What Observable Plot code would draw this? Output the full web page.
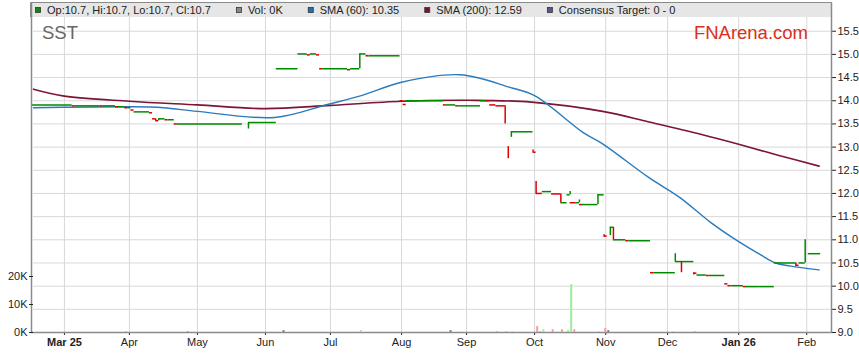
<!DOCTYPE html>
<html><head><meta charset="utf-8">
<script src="https://cdn.jsdelivr.net/npm/d3@7"></script>
<script src="https://cdn.jsdelivr.net/npm/@observablehq/plot@0.6"></script>
<style>
body{margin:0;background:#fff;}
#wrap{position:relative;width:859px;height:363px;}
#wrap svg{position:absolute;left:0;top:0;}
</style></head><body><div id="wrap"></div>
<script>
// ---------- data ----------
const monthTicks = ["2025-03-03","2025-04-01","2025-05-01","2025-06-02","2025-07-01","2025-08-01","2025-09-01","2025-10-01","2025-11-03","2025-12-01","2026-01-01","2026-02-02"];
const monthLabels = ["Mar 25","Apr","May","Jun","Jul","Aug","Sep","Oct","Nov","Dec","Jan 26","Feb"];
const boldLabels = ["Mar 25","Jan 26"];
const priceTicks = [9.0,9.5,10.0,10.5,11.0,11.5,12.0,12.5,13.0,13.5,14.0,14.5,15.0,15.5];
const volTicks = [0,10,20];

// price runs: [first day, last day, price, direction]
const runs = [
["2025-02-17","2025-03-05",13.91,"u"],["2025-03-06","2025-03-06",13.89,"d"],["2025-03-07","2025-03-18",13.89,"u"],
["2025-03-19","2025-03-19",13.89,"d"],["2025-03-20","2025-03-25",13.89,"u"],["2025-03-26","2025-03-26",13.87,"d"],
["2025-03-27","2025-03-28",13.87,"u"],["2025-03-31","2025-03-31",13.85,"d"],["2025-04-01","2025-04-01",13.85,"u"],
["2025-04-02","2025-04-02",13.80,"d"],["2025-04-03","2025-04-09",13.76,"u"],["2025-04-10","2025-04-10",13.74,"d"],
["2025-04-11","2025-04-11",13.61,"d"],["2025-04-14","2025-04-14",13.57,"d"],["2025-04-15","2025-04-16",13.61,"u"],
["2025-04-17","2025-04-17",13.59,"d"],["2025-04-18","2025-04-21",13.59,"u"],["2025-04-22","2025-04-22",13.50,"d"],
["2025-04-23","2025-05-21",13.50,"u"],["2025-05-26","2025-06-05",13.53,"u"],["2025-06-06","2025-06-16",14.69,"u"],
["2025-06-17","2025-06-19",15.01,"u"],["2025-06-20","2025-06-20",14.99,"d"],["2025-06-23","2025-06-24",15.01,"u"],
["2025-06-25","2025-06-25",14.99,"d"],["2025-06-26","2025-06-26",14.69,"d"],["2025-06-27","2025-07-08",14.69,"u"],
["2025-07-09","2025-07-09",14.67,"d"],["2025-07-10","2025-07-14",14.69,"u"],["2025-07-15","2025-07-16",15.01,"u"],
["2025-07-17","2025-07-17",14.97,"d"],["2025-07-18","2025-07-31",14.97,"u"],["2025-08-01","2025-08-01",14.00,"d"],
["2025-08-04","2025-08-04",13.92,"d"],["2025-08-05","2025-08-20",14.00,"u"],["2025-08-21","2025-08-21",13.91,"d"],
["2025-08-22","2025-08-26",13.91,"u"],["2025-08-27","2025-08-27",13.89,"d"],["2025-08-28","2025-09-05",13.89,"u"],
["2025-09-08","2025-09-09",14.00,"u"],["2025-09-10","2025-09-10",14.00,"d"],["2025-09-11","2025-09-12",13.91,"d"],
["2025-09-15","2025-09-17",13.89,"d"],["2025-09-22","2025-09-30",13.33,"u"],["2025-10-01","2025-10-01",12.89,"d"],
["2025-10-02","2025-10-03",12.00,"d"],["2025-10-06","2025-10-08",12.04,"u"],["2025-10-09","2025-10-13",11.99,"d"],
["2025-10-14","2025-10-15",11.80,"u"],["2025-10-16","2025-10-16",11.97,"u"],["2025-10-17","2025-10-20",11.80,"d"],
["2025-10-21","2025-10-21",11.80,"u"],["2025-10-22","2025-10-22",11.76,"d"],["2025-10-23","2025-10-29",11.76,"u"],
["2025-10-30","2025-10-31",11.97,"u"],["2025-11-03","2025-11-03",11.08,"d"],["2025-11-05","2025-11-05",11.27,"u"],
["2025-11-06","2025-11-11",11.00,"u"],["2025-11-12","2025-11-12",10.98,"d"],["2025-11-13","2025-11-21",10.98,"u"],
["2025-11-24","2025-11-24",10.29,"d"],["2025-11-25","2025-12-03",10.29,"u"],["2025-12-04","2025-12-05",10.53,"u"],
["2025-12-08","2025-12-11",10.53,"u"],["2025-12-12","2025-12-12",10.28,"d"],["2025-12-15","2025-12-17",10.24,"u"],
["2025-12-18","2025-12-18",10.23,"d"],["2025-12-19","2025-12-25",10.23,"u"],["2025-12-26","2025-12-26",10.05,"d"],
["2025-12-29","2025-12-29",10.01,"d"],["2025-12-30","2026-01-02",10.01,"u"],["2026-01-05","2026-01-05",9.99,"d"],
["2026-01-06","2026-01-09",9.99,"u"],["2026-01-12","2026-01-16",9.99,"u"],["2026-01-19","2026-01-27",10.50,"u"],
["2026-01-28","2026-01-28",10.45,"d"],["2026-01-29","2026-01-30",10.50,"u"],["2026-02-03","2026-02-06",10.70,"u"]
];

// intraday moves: [day, from, to, direction]
const moves = [
["2025-04-14",13.61,13.57,"d"],["2025-04-15",13.57,13.61,"u"],["2025-05-26",13.39,13.52,"u"],
["2025-07-15",14.69,15.01,"u"],["2025-09-18",13.89,13.50,"d"],["2025-09-19",13.01,12.75,"d"],
["2025-09-22",13.21,13.33,"u"],["2025-10-01",12.94,12.89,"d"],["2025-10-02",12.26,11.99,"d"],
["2025-10-14",11.99,11.80,"d"],["2025-10-17",11.97,12.04,"u"],["2025-10-22",11.80,11.86,"u"],
["2025-10-30",11.76,11.97,"u"],["2025-11-03",11.11,11.06,"d"],["2025-11-05",11.09,11.27,"u"],
["2025-11-06",11.27,11.00,"d"],["2025-12-04",10.53,10.70,"u"],["2025-12-08",10.53,10.29,"d"],
["2025-12-12",10.29,10.24,"d"],["2026-01-28",10.50,10.43,"d"],["2026-02-02",10.50,11.00,"u"]
];

// volume in thousands: [day, K, direction]
const volumes = [
["2025-03-31",0.3,"d"],["2025-04-28",0.2,"n"],["2025-06-10",0.7,"n"],["2025-07-15",0.7,"u"],
["2025-08-25",0.7,"n"],["2025-09-15",0.3,"d"],["2025-09-18",0.3,"d"],["2025-09-22",0.3,"u"],
["2025-10-02",2.1,"d"],["2025-10-03",0.3,"d"],["2025-10-06",1.0,"u"],["2025-10-09",1.0,"d"],
["2025-10-14",1.0,"d"],["2025-10-16",0.7,"u"],["2025-10-17",17.1,"u"],["2025-10-20",1.0,"d"],
["2025-10-30",0.3,"u"],["2025-11-03",1.4,"d"],["2025-11-04",0.7,"n"],["2025-12-03",0.3,"u"],
["2025-12-12",0.3,"d"]
];

const sma60 = [
["2025-02-17",13.85],["2025-04-01",13.87],["2025-04-16",13.85],["2025-05-01",13.77],["2025-06-05",13.64],
["2025-06-30",13.92],["2025-07-15",14.11],["2025-08-01",14.40],["2025-08-28",14.56],["2025-09-19",14.29],
["2025-10-01",14.11],["2025-10-23",13.30],["2025-10-31",13.07],["2025-11-21",12.34],["2025-12-05",11.91],
["2025-12-19",11.37],["2026-01-01",10.96],["2026-01-12",10.68],["2026-01-19",10.50],["2026-01-28",10.41],
["2026-02-06",10.35]
];
const sma200 = [
["2025-02-17",14.25],["2025-03-03",14.10],["2025-04-01",13.99],["2025-05-01",13.91],["2025-06-02",13.83],
["2025-07-01",13.90],["2025-08-01",13.99],["2025-09-02",14.01],["2025-09-30",13.97],["2025-10-31",13.77],
["2025-11-21",13.54],["2025-12-16",13.27],["2026-01-01",13.06],["2026-01-20",12.82],["2026-02-06",12.59]
];

// ---------- helpers ----------
const START = Date.UTC(2025,1,17); // Monday
function wd(s){ // weekday index since start
  const days = Math.round((Date.parse(s) - START)/864e5);
  return Math.floor(days/7)*5 + Math.min(days%7,5);
}
const UP = "#008a00", DOWN = "#dd0000";
const col = d => d === "u" ? UP : DOWN;
const volCol = d => d === "u" ? "#99ee99" : d === "d" ? "#ff9999" : "#7f7f7f";
const FONT = "'Liberation Sans', Arial, sans-serif";
const W = 859, H = 363, ML = 33, MR = 28, MT = 17, MB = 31;
const X_DOMAIN = [0, 258];
const Y_TOP = 9 + (332 - MT) / 46.35;

const monthIdx = monthTicks.map(wd);
const labelOf = new Map(monthIdx.map((v,i)=>[v, monthLabels[i]]));

const price = Plot.plot({
  width: W, height: H, marginLeft: ML, marginRight: MR, marginTop: MT, marginBottom: MB,
  style: {fontFamily: FONT, fontSize: "11px", color: "#222", background: "white", overflow: "visible"},
  x: {type: "linear", domain: X_DOMAIN, ticks: monthIdx, tickFormat: v => labelOf.get(v), tickSize: 3, tickPadding: 3, label: null},
  y: {domain: [9, Y_TOP], axis: "right", ticks: priceTicks, tickFormat: d => d.toFixed(1), tickSize: 4, tickPadding: 2, label: null},
  marks: [
    Plot.ruleY(priceTicks, {stroke: "#d8d8d8", strokeWidth: 1}),
    Plot.ruleX(monthIdx, {y1: 9, y2: Y_TOP, stroke: "#d8d8d8", strokeWidth: 1}),
    Plot.line(sma200, {x: d => wd(d[0]), y: d => d[1], stroke: "#7d1533", strokeWidth: 1.6, curve: "catmull-rom"}),
    Plot.line(sma60, {x: d => wd(d[0]), y: d => d[1], stroke: "#2a7bbd", strokeWidth: 1.4, curve: "catmull-rom"}),
    Plot.ruleY(runs, {y: d => d[2], x1: d => wd(d[0]) - 0.5, x2: d => wd(d[1]) + 0.5, stroke: d => col(d[3]), strokeWidth: 1.5}),
    Plot.ruleX(moves, {x: d => wd(d[0]) - 0.5, y1: d => d[1], y2: d => d[2], stroke: d => col(d[3]), strokeWidth: 1.5})
  ]
});

const vol = Plot.plot({
  width: W, height: H, marginLeft: ML, marginRight: MR, marginTop: MT, marginBottom: MB,
  style: {fontFamily: FONT, fontSize: "11px", color: "#222", background: "transparent", overflow: "visible"},
  x: {type: "linear", domain: X_DOMAIN, axis: null},
  y: {domain: [0, (332 - MT) / 2.8], axis: "left", ticks: volTicks, tickFormat: d => d + "K", tickSize: 4, tickPadding: 2, label: null},
  marks: [
    Plot.rect(volumes, {x1: d => wd(d[0]) - 0.32, x2: d => wd(d[0]) + 0.32, y1: 0, y2: d => d[1], fill: d => volCol(d[2])})
  ]
});

const wrap = document.getElementById("wrap");
wrap.appendChild(price);
wrap.appendChild(vol);

// bold year labels
d3.select(price).selectAll("text").filter(function(){ return boldLabels.includes(this.textContent); }).attr("font-weight", "bold");

// frame, legend band, titles
const s = d3.select(price);
const deco = s.append("g").attr("text-anchor", "start");
deco.append("rect").attr("x", 30.5).attr("y", 2.5).attr("width", 801).attr("height", 14.5).attr("fill", "#e6e6e6").attr("stroke", "none");
deco.append("path").attr("d", "M30.5,17 V2.5 H831.5 V17").attr("fill", "none").attr("stroke", "#8a8a8a");
deco.append("line").attr("x1", 31.5).attr("x2", 31.5).attr("y1", 2.5).attr("y2", 332.5).attr("stroke", "#8a8a8a").attr("stroke-width", 1.5);
deco.append("line").attr("x1", 831.5).attr("x2", 831.5).attr("y1", 2.5).attr("y2", 332.5).attr("stroke", "#8a8a8a").attr("stroke-width", 1.5);
deco.append("line").attr("x1", 31).attr("x2", 832).attr("y1", 332.5).attr("y2", 332.5).attr("stroke", "#8a8a8a").attr("stroke-width", 1.5);

const last = runs[runs.length - 1][2].toFixed(1);
const legendItems = [
  {c: "#0a8a0a", t: `Op:${last}, Hi:${last}, Lo:${last}, Cl:${last}`},
  {c: "#8a8a8a", t: "Vol: 0K"},
  {c: "#1f6fb3", t: `SMA (60): ${sma60[sma60.length-1][1].toFixed(2)}`},
  {c: "#7b1230", t: `SMA (200): ${sma200[sma200.length-1][1].toFixed(2)}`},
  {c: "#56568c", t: "Consensus Target: 0 - 0"}
];
let lx = 35;
for (const it of legendItems) {
  deco.append("rect").attr("x", lx + 0.5).attr("y", 7.5).attr("width", 5).attr("height", 5).attr("fill", it.c).attr("stroke", "#333").attr("stroke-width", 0.8);
  const t = deco.append("text").attr("text-anchor", "start").attr("x", lx + 12).attr("y", 14).attr("font-family", FONT).attr("font-size", 11).attr("fill", "#222").text(it.t);
  lx = lx + 12 + t.node().getComputedTextLength() + 25;
}
deco.append("text").attr("text-anchor", "start").attr("x", 42).attr("y", 39).attr("font-family", FONT).attr("font-size", 18.5).attr("fill", "#666").text("SST");
deco.append("text").attr("text-anchor", "end").attr("x", 808).attr("y", 39).attr("font-family", FONT).attr("font-size", 18.5).attr("fill", "#d8301c").text("FNArena.com");
</script></body></html>
